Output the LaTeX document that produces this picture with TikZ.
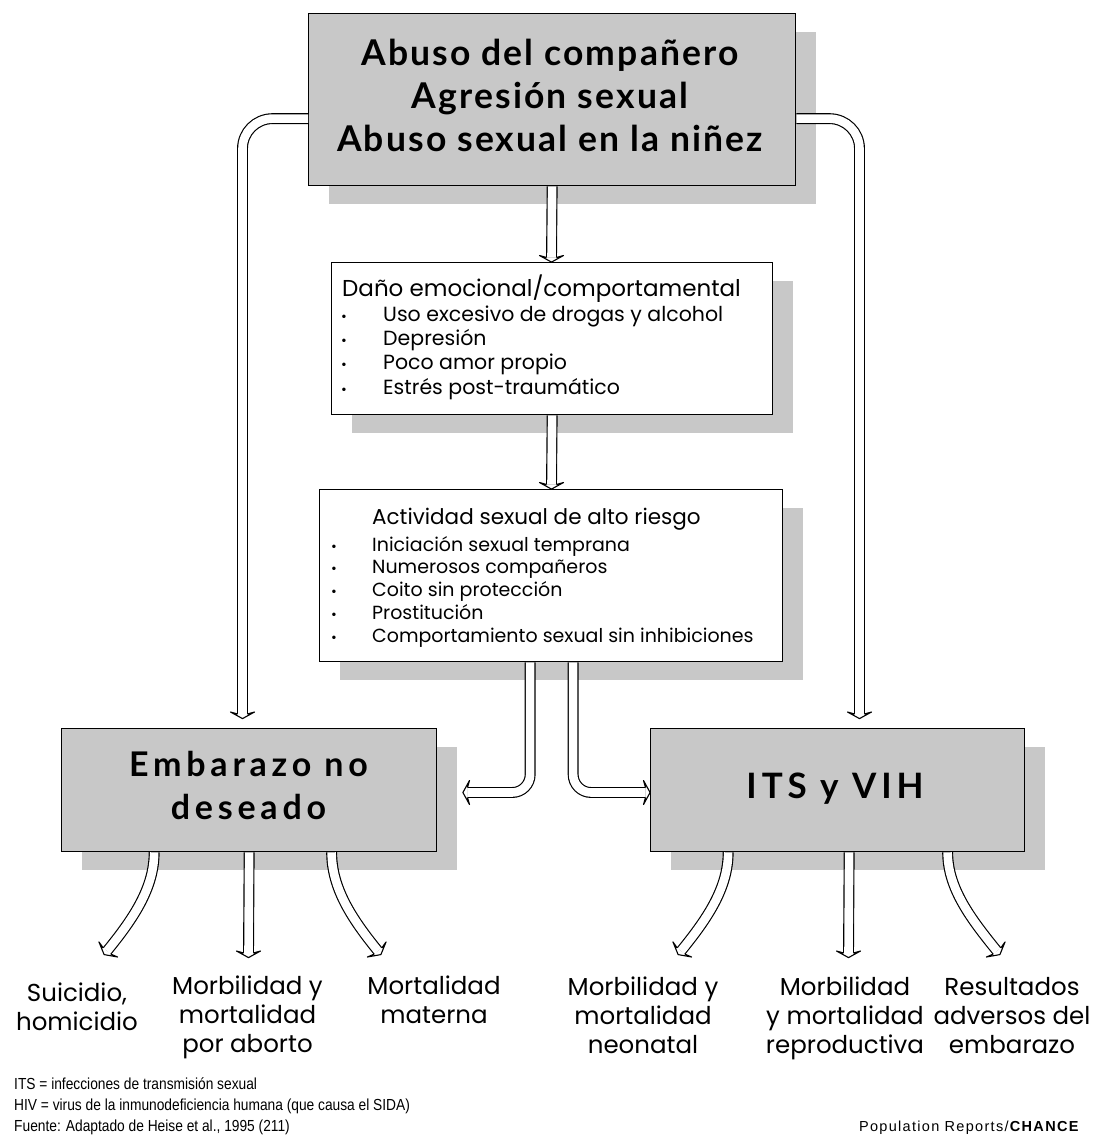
\documentclass[tikz,border=0pt]{standalone}
\usepackage{fontspec}
\setmainfont{Liberation Sans}
\newfontfamily\headfont{Lato}[LetterSpace=6]
\newfontfamily\headwide{Lato}[LetterSpace=14]
\newfontfamily\geo{Poppins}
\newfontfamily\footfont{Liberation Sans}[FakeStretch=0.86]
\newfontfamily\popfont{Liberation Sans}[LetterSpace=9]
\usepackage{array}
\definecolor{boxgray}{HTML}{C8C8C8}
\newcommand\topfnt{\headfont\bfseries\fontsize{35.5}{43}\selectfont}
\newcommand\lblfnt{\geo\fontsize{24.5}{29}\selectfont}
\newcommand\smbul{{\fontsize{14}{14}\selectfont\textbullet}}
\tikzset{
  shadowed/.style={preaction={fill=boxgray, transform canvas={shift={(20pt,-18pt)}}}},
  gbox/.style={draw, line width=1.3pt, fill=boxgray, inner sep=0pt, anchor=north west, shadowed},
  wbox/.style={gbox, fill=white},
  harrow/.style={draw=black, line width=1.15pt, double=white, double distance=8.6pt},
  htip/.pic={
    \fill[white] (-4.9,0) -- (-12,-2) -- (0,4.6) -- (12,-2) -- (4.9,0) -- cycle;
    \draw[line width=1.1pt, line join=round] (-4.9,0) -- (-12,-2) -- (0,4.6) -- (12,-2) -- (4.9,0);
  },
  txt/.style={inner sep=0pt},
  lbl/.style={txt, anchor=north, align=center, font=\lblfnt},
  foot/.style={txt, anchor=base west, font=\footfont\fontsize{16}{16}\selectfont},
}
\begin{document}
\begin{tikzpicture}[x=1pt,y=-1pt]
\fill[white] (0,0) rectangle (1093,1143);
\useasboundingbox (0,0) rectangle (1093,1143);

% boxes
\node[gbox, minimum width=487pt, minimum height=172pt] (top) at (308,13) {};
\node[wbox, minimum width=441pt, minimum height=152pt] (dano) at (331,262) {};
\node[wbox, minimum width=463pt, minimum height=172pt] (act) at (319,489) {};
\node[gbox, minimum width=375pt, minimum height=123pt] (emb) at (61,728) {};
\node[gbox, minimum width=374pt, minimum height=123pt] (its) at (650,728) {};

% box texts
\node[txt, anchor=north, align=center, font=\topfnt] (toptxt) at (550,39)
  {Abuso del compañero\\Agresión sexual\\Abuso sexual en la niñez};
\node[txt, anchor=north, align=center, font=\headwide\bfseries\fontsize{34}{43}\selectfont] (embtxt) at (248.5,751)
  {Embarazo no\\deseado};
\node[txt, anchor=base, font=\headwide\bfseries\fontsize{35}{43}\selectfont] (itstxt) at (835,798) {ITS y VIH};

\node[txt, anchor=base west, font=\geo\fontsize{23}{28}\selectfont] (danot) at (342,296) {Daño emocional/comportamental};
\node[txt, anchor=north west, font=\geo\fontsize{20.5}{24.3}\selectfont] (danol) at (341,304)
  {\begin{tabular}{@{}p{42pt}@{}l@{}}
   \smbul & Uso excesivo de drogas y alcohol\\
   \smbul & Depresión\\
   \smbul & Poco amor propio\\
   \smbul & Estrés post-traumático
   \end{tabular}};

\node[txt, anchor=base west, font=\geo\fontsize{21.5}{28}\selectfont] (actt) at (372,524) {Actividad sexual de alto riesgo};
\node[txt, anchor=north west, font=\geo\fontsize{19}{22.75}\selectfont] (actl) at (331,535)
  {\begin{tabular}{@{}p{41pt}@{}l@{}}
   \smbul & Iniciación sexual temprana\\
   \smbul & Numerosos compañeros\\
   \smbul & Coito sin protección\\
   \smbul & Prostitución\\
   \smbul & Comportamiento sexual sin inhibiciones
   \end{tabular}};

% arrow end points
\coordinate (tC1) at (551.5,257.5);
\coordinate (tC2) at (551.5,484.5);
\coordinate (tL) at (242.5,714);
\coordinate (tR) at (859.5,714);
\coordinate (tAE) at (467.5,792.5);
\coordinate (tAI) at (645.5,792.5);
\coordinate (e1) at (107,951);
\coordinate (e2) at (248.5,953);
\coordinate (e3) at (378,951);
\coordinate (i1) at (681,951);
\coordinate (i2) at (848.5,953);
\coordinate (i3) at (997,951);

% arrows
\draw[harrow] (top.south) -- (tC1);
\path (tC1) pic{htip};
\draw[harrow] (dano.south) -- (tC2);
\path (tC2) pic{htip};
\draw[harrow, rounded corners=30pt] ([yshift=-19pt]top.west) -| (tL);
\path (tL) pic{htip};
\draw[harrow, rounded corners=30pt] ([yshift=-19pt]top.east) -| (tR);
\path (tR) pic{htip};
\draw[harrow, rounded corners=18pt] ([xshift=-21pt]act.south) |- (tAE);
\path (tAE) pic[rotate=-90]{htip};
\draw[harrow, rounded corners=18pt] ([xshift=22pt]act.south) |- (tAI);
\path (tAI) pic[rotate=90]{htip};

\draw[harrow] ([xshift=-95pt]emb.south) .. controls +(0,36) and +(26,-32) .. (e1);
\path (e1) pic[rotate=-39]{htip};
\draw[harrow] (emb.south) -- (e2);
\path (e2) pic{htip};
\draw[harrow] ([xshift=82.5pt]emb.south) .. controls +(0,36) and +(-26,-32) .. (e3);
\path (e3) pic[rotate=39]{htip};

\draw[harrow] ([xshift=-109.5pt]its.south) .. controls +(0,36) and +(26,-32) .. (i1);
\path (i1) pic[rotate=-39]{htip};
\draw[harrow] ([xshift=11.5pt]its.south) -- (i2);
\path (i2) pic{htip};
\draw[harrow] ([xshift=110pt]its.south) .. controls +(0,36) and +(-26,-32) .. (i3);
\path (i3) pic[rotate=39]{htip};

% outcome labels
\node[lbl] (suic) at (77,983) {Suicidio,\\homicidio};
\node[lbl] (morba) at (247.5,976) {Morbilidad y\\mortalidad\\por aborto};
\node[lbl] (mortm) at (434,976) {Mortalidad\\materna};
\node[lbl] (morbn) at (643,977) {Morbilidad y\\mortalidad\\neonatal};
\node[lbl] (morbr) at (845,977) {Morbilidad\\y mortalidad\\reproductiva};
\node[lbl] (resul) at (1012,977) {Resultados\\adversos del\\embarazo};

% footnotes
\node[foot] (f1) at (14,1089) {ITS = infecciones de transmisión sexual};
\node[foot] (f2) at (14,1110) {HIV = virus de la inmunodeficiencia humana (que causa el SIDA)};
\node[foot] (f3) at (14,1131) {Fuente: Adaptado de Heise et al., 1995 (211)};
\node[txt, anchor=base east, font=\popfont\fontsize{14.5}{14.5}\selectfont] (src) at (1080,1131) {Population Reports/\textbf{CHANCE}};
\end{tikzpicture}
\end{document}
